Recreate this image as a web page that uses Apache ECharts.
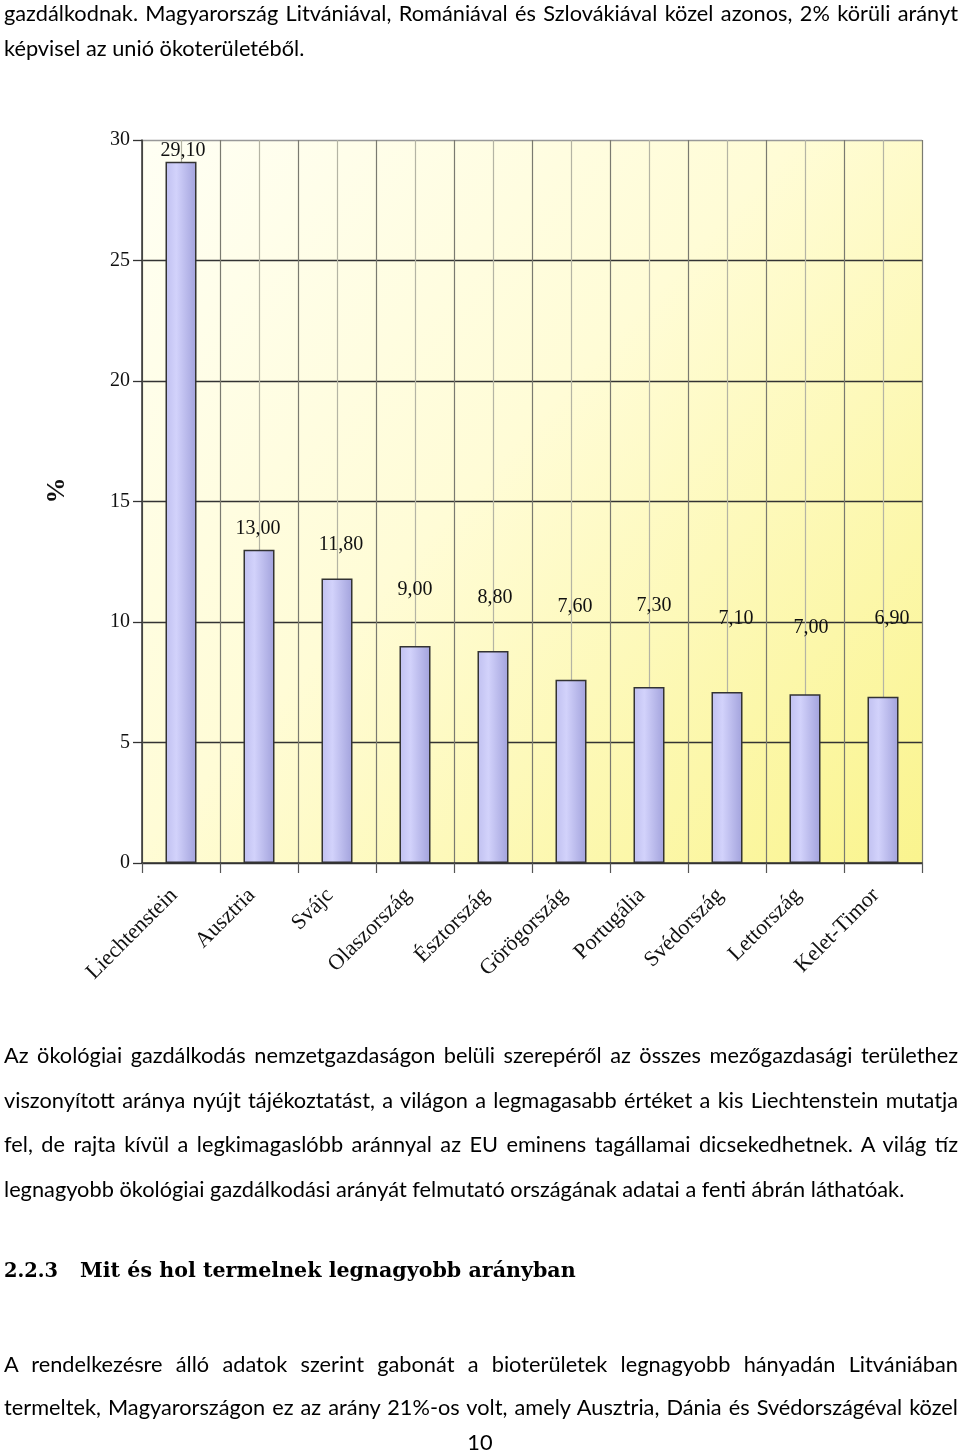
<!DOCTYPE html>
<html>
<head>
<meta charset="utf-8">
<script src="https://cdn.jsdelivr.net/npm/echarts@6/dist/echarts.min.js"></script>
<style>
  html, body { margin: 0; padding: 0; background: #ffffff; width: 960px; height: 1454px; overflow: hidden; }
  #chart { position: absolute; left: 0; top: 0; width: 960px; height: 1454px; }
  #txt { position: absolute; left: 0; top: 0; }
</style>
</head>
<body>
<div id="chart"></div>
<svg id="txt" width="960" height="1454" xmlns="http://www.w3.org/2000/svg"></svg>
<script>
// ---------------- data ----------------
const categories = ['Liechtenstein', 'Ausztria', 'Svájc', 'Olaszország', 'Észtország',
                    'Görögország', 'Portugália', 'Svédország', 'Lettország', 'Kelet-Timor'];
const values = [29.10, 13.00, 11.80, 9.00, 8.80, 7.60, 7.30, 7.10, 7.00, 6.90];
const yMin = 0, yMax = 30, yStep = 5;
const yAxisTitle = '%';

// page text (lines as laid out in the document)
const pageLines = [
  { t: 'gazdálkodnak. Magyarország Litvániával, Romániával és Szlovákiával közel azonos, 2% körüli arányt', y: 21, w: 954, j: true },
  { t: 'képvisel az unió ökoterületéből.', y: 56, j: false },
  { t: 'Az ökológiai gazdálkodás nemzetgazdaságon belüli szerepéről az összes mezőgazdasági területhez', y: 1063, w: 954, j: true },
  { t: 'viszonyított aránya nyújt tájékoztatást, a világon a legmagasabb értéket a kis Liechtenstein mutatja', y: 1108, w: 954, j: true },
  { t: 'fel, de rajta kívül a legkimagaslóbb aránnyal az EU eminens tagállamai dicsekedhetnek. A világ tíz', y: 1152, w: 954, j: true },
  { t: 'legnagyobb ökológiai gazdálkodási arányát felmutató országának adatai a fenti ábrán láthatóak.', y: 1197, w: 901, j: false, ref: true },
  { t: 'A rendelkezésre álló adatok szerint gabonát a bioterületek legnagyobb hányadán Litvániában', y: 1372, w: 954, j: true },
  { t: 'termeltek, Magyarországon ez az arány 21%-os volt, amely Ausztria, Dánia és Svédországéval közel', y: 1415, w: 954, j: true }
];
const headingNum = '2.2.3';
const headingText = 'Mit és hol termelnek legnagyobb arányban';
const pageNumber = '10';

// ---------------- page text ----------------
const NS = 'http://www.w3.org/2000/svg';
const svg = document.getElementById('txt');
const BODY_FONT = 'Lato', BODY_SIZE = 21;
function makeText(str, opts) {
  const el = document.createElementNS(NS, 'text');
  el.setAttribute('font-family', opts.family || BODY_FONT);
  el.setAttribute('font-size', opts.size || BODY_SIZE);
  el.setAttribute('fill', '#000');
  el.setAttribute('xml:space', 'preserve');
  if (opts.weight) el.setAttribute('font-weight', opts.weight);
  el.textContent = str;
  svg.appendChild(el);
  return el;
}
// horizontal condensing factor derived from the unjustified reference line
const refLine = pageLines.find(l => l.ref);
const probe = makeText(refLine.t, {});
const k = refLine.w / probe.getComputedTextLength();
svg.removeChild(probe);

pageLines.forEach(l => {
  const el = makeText(l.t, {});
  el.setAttribute('x', 4 / k);
  el.setAttribute('y', l.y);
  el.setAttribute('transform', 'scale(' + k + ',1)');
  if (l.j) {
    const natural = el.getComputedTextLength();
    const spaces = (l.t.match(/ /g) || []).length;
    const ws = (l.w / k - natural) / spaces;
    el.setAttribute('word-spacing', ws);
  }
});
function fitText(str, x, y, len, opts) {
  const el = makeText(str, opts);
  const nat = el.getComputedTextLength();
  const s = len / nat;
  el.setAttribute('x', x / s);
  el.setAttribute('y', y);
  el.setAttribute('transform', 'scale(' + s + ',1)');
}
fitText(headingNum, 4, 1277, 54, { family: 'DejaVu Serif', size: 21, weight: 'bold' });
fitText(headingText, 80, 1277, 496, { family: 'DejaVu Serif', size: 21, weight: 'bold' });
(function () {
  const el = makeText(pageNumber, {});
  el.setAttribute('text-anchor', 'middle');
  el.setAttribute('x', 480 / k);
  el.setAttribute('y', 1450);
  el.setAttribute('transform', 'scale(' + k + ',1)');
})();

// ---------------- chart ----------------
// per-label nudges (style only) to follow the hand-placed labels of the original
const labelNudge = [[2, 2], [-1, -8], [4, -21], [0, -43], [2, -40], [4, -60], [5, -68], [9, -60], [6, -54], [9, -65]];

const fmt = v => v.toFixed(2).replace('.', ',');
const chart = echarts.init(document.getElementById('chart'), null, { renderer: 'canvas' });

const barData = values.map((v, i) => ({
  value: v,
  label: { offset: labelNudge[i] }
}));

chart.setOption({
  animation: false,
  backgroundColor: 'transparent',
  grid: {
    left: 142, right: 38, top: 140, bottom: 591,
    show: true,
    borderWidth: 0,
    backgroundColor: new echarts.graphic.LinearGradient(0, 0, 1, 1, [
      { offset: 0, color: '#fffff4' },
      { offset: 0.45, color: '#fffcd6' },
      { offset: 1, color: '#faf48e' }
    ])
  },
  xAxis: [
    {
      type: 'category',
      data: categories,
      boundaryGap: true,
      axisLine: { show: true, lineStyle: { color: '#333', width: 1.5 } },
      axisTick: { show: true, length: 10, lineStyle: { color: '#555', width: 1.2 } },
      axisLabel: {
        rotate: 45, margin: 22, interval: 0,
        padding: [0, 10, 0, 0],
        fontFamily: 'Liberation Serif', fontSize: 22, color: '#111'
      },
      splitLine: { show: false }
    },
    {
      type: 'value',
      min: 0, max: categories.length * 2, interval: 1,
      position: 'top',
      axisLine: { show: false }, axisTick: { show: false }, axisLabel: { show: false },
      splitLine: { show: true, lineStyle: { color: ['#7a7a70', '#b4b4a4'], width: 1.2 } }
    }
  ],
  yAxis: {
    type: 'value',
    min: yMin, max: yMax, interval: yStep,
    name: yAxisTitle,
    nameLocation: 'middle',
    nameGap: 72,
    nameTextStyle: { fontFamily: 'Liberation Serif', fontWeight: 'bold', fontSize: 26, color: '#111', padding: [0, 0, 0, 22] },
    axisLine: { show: true, lineStyle: { color: '#333', width: 1.5 } },
    axisTick: { show: true, length: 9, lineStyle: { color: '#333', width: 1.3 } },
    axisLabel: { margin: 12, fontFamily: 'Liberation Serif', fontSize: 20, color: '#111' },
    splitLine: { show: true, lineStyle: { color: ['#333', '#333', '#333', '#333', '#333', '#333', '#999'], width: 1.4 } }
  },
  series: [{
    type: 'bar',
    xAxisIndex: 0,
    yAxisIndex: 0,
    data: barData,
    barWidth: 31,
    itemStyle: {
      color: new echarts.graphic.LinearGradient(0, 0, 1, 0, [
        { offset: 0, color: '#c0c0f0' },
        { offset: 0.35, color: '#d2d2fb' },
        { offset: 1, color: '#a2a2dc' }
      ]),
      borderColor: '#333',
      borderWidth: 1.5
    },
    label: {
      show: true,
      position: 'top',
      distance: 3,
      formatter: p => fmt(p.value),
      fontFamily: 'Liberation Serif',
      fontSize: 20,
      color: '#111'
    }
  }]
});
</script>
</body>
</html>
